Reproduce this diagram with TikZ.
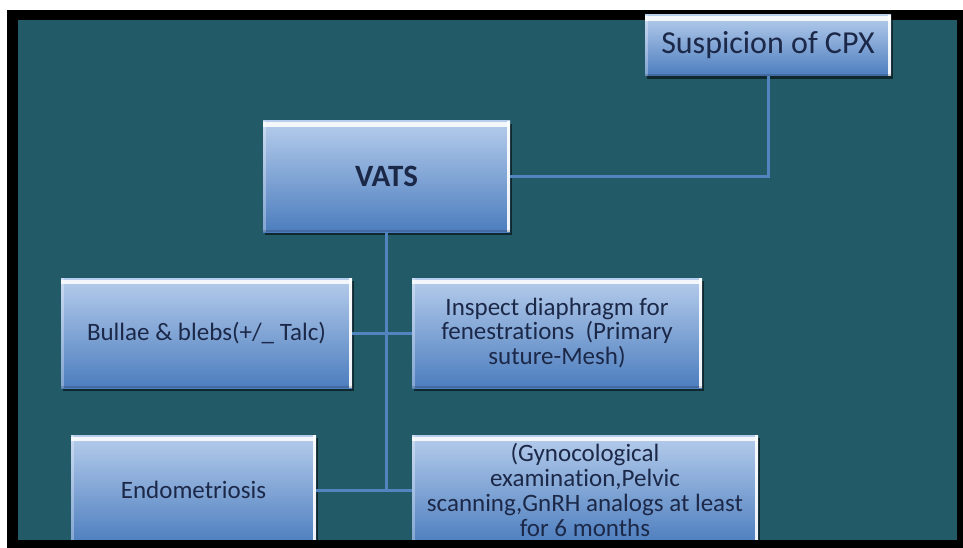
\documentclass[tikz,border=0pt]{standalone}
\usepackage{fontspec}
\setmainfont{Carlito}[Ligatures=NoCommon]
\usetikzlibrary{shadows}
\definecolor{bgteal}{RGB}{35,90,104}
\definecolor{boxtop}{RGB}{182,205,236}
\definecolor{boxbot}{RGB}{76,125,190}
\definecolor{txtnavy}{RGB}{28,40,72}
\definecolor{connblue}{RGB}{82,132,192}
\tikzset{
  box/.style={draw=none, top color=boxtop, bottom color=boxbot,
    text=txtnavy, align=center, inner sep=2pt,
    font=\fontsize{25}{24.8}\selectfont,
    drop shadow={shadow xshift=1.5pt, shadow yshift=-3pt, fill=black, opacity=0.55},
    path picture={
      \fill[white,opacity=0.85] ([yshift=-1.5pt]path picture bounding box.north west) rectangle ([yshift=-6pt]path picture bounding box.north east);
      \fill[white,opacity=0.9] ([xshift=-3.5pt]path picture bounding box.north east) rectangle (path picture bounding box.south east);
      \fill[white,opacity=0.3] (path picture bounding box.north west) rectangle ([xshift=3pt]path picture bounding box.south west);
      \fill[black,opacity=0.15] (path picture bounding box.south west) rectangle ([yshift=2pt]path picture bounding box.south east);
    }},
  conn/.style={draw=connblue, line width=3pt}
}
\begin{document}
\begin{tikzpicture}[x=1pt,y=-1pt]
\useasboundingbox (0,0) rectangle (963,548);
\fill[white] (0,0) rectangle (963,548);
\fill[black] (7,10) rectangle (963,548);
\fill[bgteal] (18,20) rectangle (957,540);

\node[box, minimum width=246pt, minimum height=61pt, font=\fontsize{32}{32}\selectfont] (susp) at (768,45.5) {Suspicion of CPX};
\node[box, minimum width=247pt, minimum height=111pt, font=\bfseries\fontsize{31}{31}\selectfont] (vats) at (386.5,176.5) {VATS};
\node[box, minimum width=291pt, minimum height=110pt] (bullae) at (206.5,333) {Bullae \& blebs(+/\_ Talc)};
\node[box, minimum width=290pt, minimum height=110pt] (inspect) at (557,333) {Inspect diaphragm for\\fenestrations\ \ (Primary\\suture-Mesh)};
\node[box, minimum width=245pt, minimum height=110pt] (endo) at (193.5,490) {Endometriosis};
\node[box, minimum width=346pt, minimum height=110pt] (gyno) at (585,490) {(Gynocological\\examination,Pelvic\\scanning,GnRH analogs at least\\for 6 months};

\draw[conn] (vats.east) -| (susp.south);
\draw[conn] (vats.south) -- (vats.south |- endo.east);
\draw[conn] (bullae.east) -- (inspect.west);
\draw[conn] (endo.east) -- (gyno.west);

\fill[black] (7,540) rectangle (963,548);
\end{tikzpicture}
\end{document}
